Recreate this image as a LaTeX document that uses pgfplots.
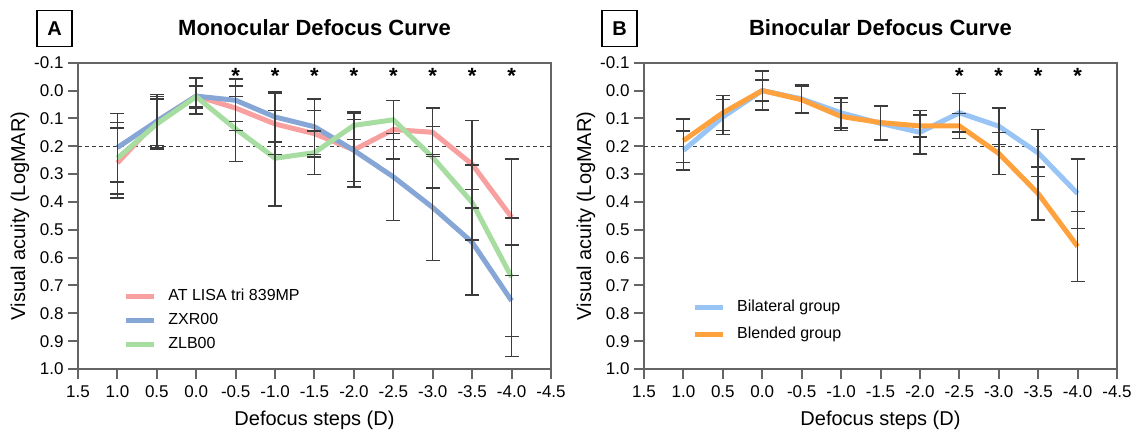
\documentclass[border=0pt]{standalone}
\usepackage{fontspec}
\setmainfont{Liberation Sans}
\usepackage{pgfplots}
\usepackage{pgfplotstable}
\pgfplotsset{compat=1.18}
\definecolor{cpink}{HTML}{F8A0A0}
\definecolor{cblue}{HTML}{86A6D6}
\definecolor{cgreen}{HTML}{A8DDA2}
\definecolor{clight}{HTML}{98C4F6}
\definecolor{corange}{HTML}{FFA23E}
\definecolor{axgray}{HTML}{646464}
\definecolor{ebcol}{HTML}{3C3C3C}

\pgfplotstableread{
x y e
1.0 0.260 0.125
0.5 0.110 0.095
0.0 0.020 0.065
-0.5 0.063 0.080
-1.0 0.120 0.110
-1.5 0.155 0.083
-2.0 0.213 0.133
-2.5 0.140 0.105
-3.0 0.150 0.087
-3.5 0.265 0.157
-4.0 0.455 0.210
}\lisa
\pgfplotstableread{
x y e
1.0 0.205 0.123
0.5 0.110 0.088
0.0 0.020 0.037
-0.5 0.035 0.076
-1.0 0.095 0.090
-1.5 0.130 0.100
-2.0 0.215 0.111
-2.5 0.310 0.156
-3.0 0.420 0.190
-3.5 0.545 0.190
-4.0 0.755 0.200
}\zxr
\pgfplotstableread{
x y e
1.0 0.243 0.128
0.5 0.120 0.090
0.0 0.022 0.040
-0.5 0.138 0.117
-1.0 0.243 0.172
-1.5 0.223 0.078
-2.0 0.125 0.050
-2.5 0.105 0.070
-3.0 0.240 0.110
-3.5 0.402 0.135
-4.0 0.670 0.213
}\zlb
\pgfplotstableread{
x y e
1.0 0.215 0.070
0.5 0.095 0.063
0.0 0.000 0.070
-0.5 0.030 0.050
-1.0 0.080 0.054
-1.5 0.118 0.060
-2.0 0.150 0.078
-2.5 0.080 0.069
-3.0 0.128 0.065
-3.5 0.224 0.085
-4.0 0.370 0.125
}\bilat
\pgfplotstableread{
x y e
1.0 0.180 0.078
0.5 0.080 0.063
0.0 0.000 0.037
-0.5 0.033 0.048
-1.0 0.093 0.050
-1.5 0.115 0.062
-2.0 0.127 0.040
-2.5 0.127 0.045
-3.0 0.226 0.075
-3.5 0.370 0.095
-4.0 0.560 0.125
}\blend

\pgfplotsset{
  dcaxis/.style={
    scale only axis, width=473pt, height=306.3pt,
    anchor=south west,
    x dir=reverse, y dir=reverse,
    xmin=-4.5, xmax=1.5, ymin=-0.1, ymax=1.0,
    xtick={-4.5,-4,-3.5,-3,-2.5,-2,-1.5,-1,-0.5,0,0.5,1,1.5},
    ytick={-0.1,0,0.1,0.2,0.3,0.4,0.5,0.6,0.7,0.8,0.9,1.0},
    xtick pos=bottom, ytick pos=left, tick align=outside,
    major tick length=10pt,
    axis line style={draw=axgray, line width=2pt},
    every tick/.style={draw=axgray, line width=2pt},
    /pgf/number format/.cd, fixed, fixed zerofill, precision=1, assume math mode=true,
    /pgfplots/.cd,
    ticklabel style={font=\fontsize{17}{18}\selectfont, text=black},
    xticklabel style={yshift=-3pt},
    yticklabel style={xshift=-1pt},
    xlabel={Defocus steps (D)}, ylabel={Visual acuity (LogMAR)},
    label style={font=\fontsize{20}{22}\selectfont},
    xlabel style={at={(axis description cs:0.5,-0.1665)}, anchor=center},
    ylabel style={at={(axis description cs:-0.1225,0.5)}, anchor=center, rotate=0},
    title style={at={(axis description cs:0.5,1)}, anchor=base, yshift=21.7pt, font=\bfseries\fontsize{22}{24}\selectfont},
    legend cell align=left,
    legend image code/.code={\draw[#1] (0pt,0pt) -- (28pt,0pt);},
    legend style={draw=none, fill=none, inner sep=0pt, font=\fontsize{16}{18}\selectfont,
      nodes={inner sep=0pt, text height=12pt, text depth=4pt},
      /tikz/every odd column/.append style={column sep=12pt}},
  },
  ebars/.style={draw=none, mark=none, forget plot,
    error bars/.cd, y dir=both, y explicit,
    error bar style={draw=ebcol, line width=1.5pt},
    error mark options={draw=ebcol, line width=1.5pt, rotate=90, mark size=7pt}},
  stars/.style={draw=none, mark=none, forget plot,
    nodes near coords={*},
    every node near coord/.append style={anchor=base, text=black, inner sep=0pt,
      font=\bfseries\fontsize{22}{22}\selectfont}},
  refline/.style={forget plot, draw=ebcol, line width=1pt, dash pattern=on 4pt off 3pt},
}

\begin{document}
\begin{tikzpicture}
\path[use as bounding box] (0pt,0pt) rectangle (1137pt,432pt);

\begin{axis}[dcaxis, at={(78pt,63pt)}, title={Monocular Defocus Curve},
  legend style={at={(axis description cs:0.0955,0.1595)}, anchor=west, row sep=8pt}]
\addplot[refline] coordinates {(1.5,0.2) (-4.5,0.2)};
\addplot[cpink, line width=5pt] table[x=x,y=y] {\lisa};
\addlegendentry{AT LISA tri 839MP}
\addplot[cblue, line width=5pt] table[x=x,y=y] {\zxr};
\addlegendentry{ZXR00}
\addplot[cgreen, line width=5pt] table[x=x,y=y] {\zlb};
\addlegendentry{ZLB00}
\addplot[ebars] table[x=x,y=y,y error=e] {\lisa};
\addplot[ebars] table[x=x,y=y,y error=e] {\zxr};
\addplot[ebars] table[x=x,y=y,y error=e] {\zlb};
\addplot[stars] coordinates {(-0.5,-0.026) (-1.0,-0.026) (-1.5,-0.026) (-2.0,-0.026) (-2.5,-0.026) (-3.0,-0.026) (-3.5,-0.026) (-4.0,-0.026)};
\end{axis}

\begin{axis}[dcaxis, at={(644pt,63pt)}, title={Binocular Defocus Curve},
  legend style={at={(axis description cs:0.1015,0.158)}, anchor=west, row sep=11pt}]
\addplot[refline] coordinates {(1.5,0.2) (-4.5,0.2)};
\addplot[clight, line width=5pt] table[x=x,y=y] {\bilat};
\addlegendentry{Bilateral group}
\addplot[corange, line width=5pt] table[x=x,y=y] {\blend};
\addlegendentry{Blended group}
\addplot[ebars] table[x=x,y=y,y error=e] {\bilat};
\addplot[ebars] table[x=x,y=y,y error=e] {\blend};
\addplot[stars] coordinates {(-2.5,-0.026) (-3.0,-0.026) (-3.5,-0.026) (-4.0,-0.026)};
\end{axis}

\node[draw=black, line width=1.5pt, minimum width=35pt, minimum height=36pt, inner sep=0pt,
  font=\bfseries\fontsize{20}{20}\selectfont] at (54.5pt,403.5pt) {A};
\node[draw=black, line width=1.5pt, minimum width=35pt, minimum height=36pt, inner sep=0pt,
  font=\bfseries\fontsize{20}{20}\selectfont] at (619.5pt,403.5pt) {B};
\end{tikzpicture}
\end{document}
